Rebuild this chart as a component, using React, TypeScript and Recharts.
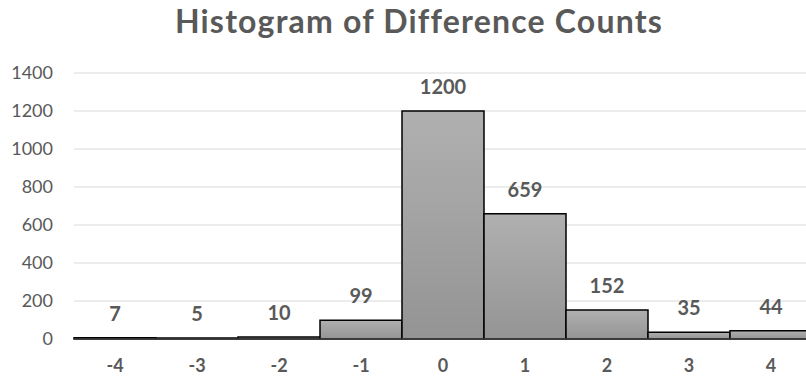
import { Bar, BarChart, CartesianGrid, LabelList, XAxis, YAxis } from "recharts";

const categories = ["-4", "-3", "-2", "-1", "0", "1", "2", "3", "4"];
const counts = [7, 5, 10, 99, 1200, 659, 152, 35, 44];
const yTicks = [0, 200, 400, 600, 800, 1000, 1200, 1400];

const data = categories.map((c, i) => ({ diff: c, count: counts[i] }));

const TEXT = "#595959";
const FONT = "Lato, 'Noto Sans', sans-serif";

export default function App() {
  return (
    <div
      style={{
        position: "fixed",
        left: 0,
        top: 0,
        width: 806,
        height: 378,
        overflow: "hidden",
        background: "#fff",
        fontFamily: FONT,
      }}
    >
      <div
        style={{
          position: "absolute",
          left: 0,
          top: 5,
          width: 838,
          textAlign: "center",
          fontSize: 32,
          lineHeight: "32px",
          letterSpacing: 1.2,
          fontWeight: 700,
          color: TEXT,
        }}
      >
        Histogram of Difference Counts
      </div>
      <div style={{ position: "absolute", left: 0, top: 0 }}>
        <BarChart
          width={812}
          height={378}
          data={data}
          barCategoryGap={0}
          margin={{ top: 73, right: 0, left: 0, bottom: 9 }}
        >
          <defs>
            <linearGradient id="barFill" x1="0" y1="0" x2="0" y2="1">
              <stop offset="0%" stopColor="#b0b0b0" />
              <stop offset="100%" stopColor="#949494" />
            </linearGradient>
          </defs>
          <CartesianGrid stroke="#d9d9d9" vertical={false} />
          <XAxis
            dataKey="diff"
            height={30}
            axisLine={{ stroke: "#404040", strokeWidth: 1.5 }}
            tickLine={false}
            tickSize={0}
            tickMargin={20}
            tick={{ fontSize: 18, fontWeight: 700, fill: TEXT, fontFamily: FONT }}
          />
          <YAxis
            width={74}
            domain={[0, 1400]}
            ticks={yTicks}
            axisLine={false}
            tickLine={false}
            tickSize={0}
            tickMargin={21}
            tick={{ fontSize: 18, fill: TEXT, fontFamily: FONT }}
          />
          <Bar
            dataKey="count"
            fill="url(#barFill)"
            stroke="#000"
            strokeWidth={1.5}
            isAnimationActive={false}
          >
            <LabelList
              dataKey="count"
              position="top"
              offset={17}
              style={{ fontSize: 20, fontWeight: 700, fill: TEXT, fontFamily: FONT }}
            />
          </Bar>
        </BarChart>
      </div>
    </div>
  );
}
